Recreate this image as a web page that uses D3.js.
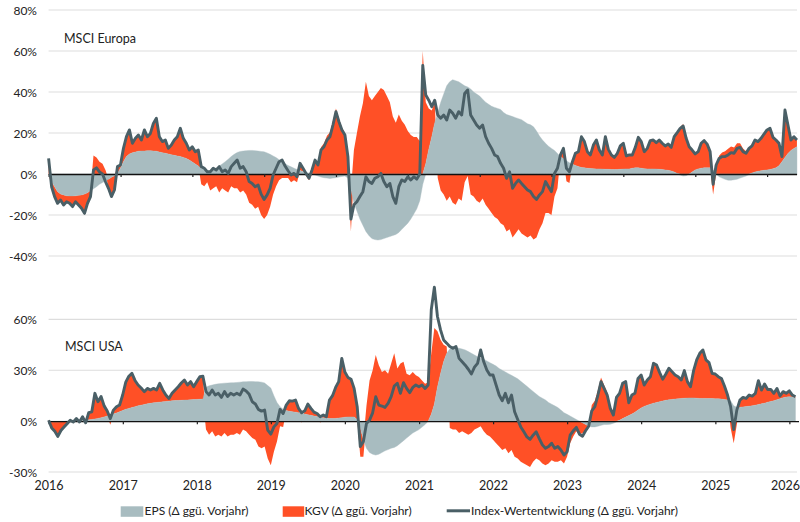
<!DOCTYPE html>
<html><head><meta charset="utf-8">
<script src="https://cdn.jsdelivr.net/npm/d3@7"></script>
<style>
body{margin:0;background:#fff}
svg{display:block}
text{font-family:Lato,"Open Sans",sans-serif;fill:#222}
</style>
</head><body>
<svg id="c" width="800" height="522"></svg>
<script>
// ---------- DATA (half-monthly samples from 2016-01-01, % change vs. prior year) ----------
const euIdx=[7.6,-6.2,-11,-14.3,-12.7,-15.1,-13.5,-14.3,-15.9,-13.5,
-15.1,-16.7,-19.2,-14.3,-11,2,3,1,0,-3.7,
-7,-11,-7.8,3.6,4.4,12.5,18.2,21.5,15,17.4,
19,16.6,21.5,18.2,19.8,24.7,27.2,18.2,15.8,16.6,
12.5,14.1,16.6,18.2,22.3,17.4,15,11.7,13.3,10.9,
11.7,3.6,2.8,1.1,1.1,2.8,2,3.6,1.1,2,
0.3,3.6,5.2,6.8,2.8,3.6,1.1,-3.7,-4.6,-6.2,
-5.4,-9.8,-12.4,-10.2,-7,-0.5,2.8,6,6.8,3.9,
1.6,-0.5,0.3,-1.3,5.2,2.8,0.3,-2.1,2,6.8,
4.4,11.7,13.3,16.6,18.2,23.9,30.4,25.5,21.5,19,
8.5,-22,-15,-13.5,-11,-8.6,-1.3,-3.7,-4.6,-2.1,
-1.3,0.3,-3.7,-6.2,-4.6,-11,-14.3,-6.2,-2.9,-3.7,
-1.3,-2.9,-1.3,-2.5,0,53,38.5,36,32.8,36,
28.8,27.2,28.8,26.3,31.2,29.6,27.2,30.4,28.8,39.3,
41,28.8,26.3,23.9,22.3,23.9,18.2,15,12.5,9.3,
8.5,5.2,2.8,-2.1,1.1,-7,-4.6,-2.9,-4.6,-6.2,
-7.8,-8.6,-11,-12.4,-10.2,-8.6,-3.7,-6.2,-8.6,0.3,
2.8,9.3,12.5,2.8,1.1,6,10.1,10.9,18.2,15.8,
10.9,9.3,14.1,16.6,11.7,9.3,18.2,12,9.3,8.1,
10.1,13.7,15,8.8,9.3,9.3,13,17.9,15.8,10.9,
12.5,16.3,16.6,15.3,16.6,15,13.7,14.6,13,18.2,
20.2,22.3,23.4,17.4,13.3,11.7,9.8,10.9,15,16.3,
14.6,10.9,-5,4.4,7.6,8.5,8.5,9.3,10.4,10.1,
12.5,13,10.9,10.1,12.5,13.7,16.6,15.8,17.4,19.5,
21.5,22.3,17.9,16.6,15,8.5,31.2,23.9,16.6,18.2,
16.6];
const euEps=[0,-3.7,-6.2,-8.6,-9.8,-10.2,-10.6,-10.7,-10.7,-10.6,
-10.4,-10.2,-9.8,-9.1,-8.1,-7.2,-6.2,-5,-4.2,-3.4,
-2.6,-1.6,-0.8,0.3,2.8,6,8.5,9.8,10.4,10.7,
11.1,11.2,11.2,11.4,11.4,11.2,11.1,10.7,10.4,10.1,
9.8,9.4,9.1,8.8,8.5,8.1,7.6,6.8,5.9,4.9,
3.9,2.8,2,1.1,1.1,2,2.8,3.9,4.9,6,
7.2,8.5,9.6,10.5,11,11.2,11.4,11.5,11.5,11.4,
11.2,11,10.8,10.3,9.6,8.8,8,7,6,5,
4.2,3.5,2.8,2.2,1.7,1.2,0.8,0.4,0,-0.5,
-1,-1.5,-1.8,-2,-2.2,-2,-1.8,-1.5,-1.2,-1,
-2,-8,-14,-18,-22,-25,-28,-30,-31.5,-32,
-32.2,-32,-31.5,-31,-30.5,-30,-29.5,-28.5,-27,-25.5,
-24,-22,-19.5,-17,-13,-5,5,12,18,25,
30,35,39,43,45,46,45.5,45,44,43,
42.5,41.5,40,39,38,36.5,35,34,33,32.5,
32,31.5,30,29,28.5,28,27.5,27,26.5,25.5,
24.5,24,23,21,18.5,16.6,15,13.5,12.5,11.5,
10,8.5,7.5,6.5,5.5,4.8,4.2,3.6,3.2,3,
2.8,2.7,2.6,2.5,2.5,2.4,2.3,2.3,2.2,2.2,
2.2,2.3,2.4,2.5,2.5,2.8,3,3,2.8,2.6,
2.5,2.5,2.5,2.4,2.3,2.2,2,1.8,1.5,1,
0.3,-0.5,-1,-0.8,0,1,2,2.5,2.8,3,
3,3,2,0,-1.3,-2,-2.6,-3,-3,-2.8,
-2.5,-2,-1.5,-1,-0.3,0.5,1,1.3,1.6,1.8,
2,2.2,2.6,3,4,6,8,10,11.5,12.5,
13.3];
const euKgv=[7,-2.5,-5,-6,-3,-5,-3,-4,-5.5,-3,
-5,-7,-10,-5.5,-3,9,8,6,5,2,
-4,-9,-7,3,1.6,6.5,9.7,11.7,4.6,6.7,
7.9,5.4,10.3,6.8,8.4,13.5,16.1,7.5,5.4,6.5,
2.7,4.7,7.5,9.4,13.8,9.3,7.4,4.9,7.4,6,
7.8,-5,-6,-4,-8,-7,-6,-9,-7,-8,
-9,-6,-7,-7,-9,-8,-10,-14,-15,-17,
-16,-20,-22,-20,-16,-10,-6,-3,-2,-2,
-2,-4,-3,-4,3,1.5,-1,-3,2,7,
5,13,15,18.6,20.4,26,32,27,22.7,20,
10,-20,11.7,20,28,34.5,45,38,36,38,
40,42,41,38,35,28,25,29,26,24,
21,19,18,18,16,60,30,20,13,10,
-2,-8,-10,-13,-11,-14,-15,-12,-13,-4,
-1,-10,-11,-13,-14,-12,-15,-17,-19,-21,
-22,-24,-25,-28,-27,-31,-29,-27,-29,-30,
-31,-30,-32,-31,-27,-24,-19,-19,-20,-11,
-7,0.8,5,-3.5,-4.4,1.2,5.9,7.3,15,12.8,
8.1,6.6,11.5,14.1,9.2,6.9,15.9,9.7,7.1,5.9,
7.9,11.4,12.6,6.3,6.8,6.5,10,14.9,13,8.3,
10,13.8,14.1,12.9,14.3,12.8,11.7,12.8,11.5,17.2,
19.9,22.8,24.4,18.2,13.3,10.7,7.8,8.4,12.2,13.3,
11.6,7.9,-10,4.4,8.9,10.5,11.1,12.3,13.4,12.9,
15,15,12.4,11.1,12.8,13.2,15.6,14.5,15.8,17.7,
19.5,20.1,15.3,13.6,11,2.5,23.2,13.9,5.1,5.7,
3.3];

const usIdx=[0.5,-4,-6,-9,-5.5,-3.5,-1.5,0.5,-0.5,1.5,
-0.5,2.6,-1,5,5.5,16.4,11.5,14.5,9,6,
1.5,6.5,8.5,9.5,15.4,23,26.5,28.2,24,21.3,
19.5,17.4,19.3,18.4,19.3,18.4,22.3,18.4,15.4,13.4,
16.4,18.4,20.3,22.5,24.3,21.3,23.3,20.3,23.3,26.2,
26.5,17.4,15.4,18.4,15.4,16.4,14,17.4,14.5,16.4,
15.4,16.4,15.4,18.9,17.8,15.8,11.4,10.1,6.9,5.9,
6.5,-5.3,-7.7,-3.4,-1.4,6.9,4.5,9.5,12,11.8,
12.4,7.5,4.9,6.1,10.1,7.5,5.3,4.5,2.6,3.6,
2.6,12.4,15,19.9,23.3,37,29,25.8,24.7,19.3,
8.5,-15,-12,-1.4,0.6,4.9,14.4,9.5,8.9,8.1,
10.5,14.4,20.7,22.3,16.4,22.7,19.3,16.8,19.9,21.3,
20.3,21.3,19.3,21.3,65.7,79,61.7,53.8,47.9,46,
44,43,44,37,35,33,30.6,27.8,31.8,34.1,
42,35,30.2,27.2,27.2,21.3,15.4,12,16.4,10.8,
15.4,5.5,1,-3.4,-6.3,-9.3,-10.8,-8.3,-6.3,-10.3,
-14,-16,-15,-13,-16,-15,-17,-20,-18,-8.3,
-5.7,-3.7,-7.7,-8.9,-5.7,-3,6.1,8.5,15.4,23.3,
19.3,15.4,7.5,3.6,14,16.4,22.3,23.3,10.8,15.4,
16.4,25.2,27.2,21.3,24.3,26.2,34.1,33.1,28.6,24.7,
27.8,31.2,29.2,27.2,26.2,24.3,29.8,23.3,20.3,29.8,
36.1,40,42,36.1,34.5,28.2,27.8,26.2,25.2,20.7,
15.4,8.5,-5,6.5,12.4,14,13.4,15.4,14.8,16.4,
23.9,18.3,21.9,18.7,18.7,16.4,19.3,14.8,17.4,16.4,
17.9,15.4,14.4];
const usEps=[0,-0.5,-0.5,-0.5,-0.3,-0.3,0,0,0,0.2,
0.3,0.5,0.6,0.8,1,1.3,1.6,2,2.5,3,
3.6,4.2,4.8,5.5,6.3,7,7.5,8,8.5,9,
9.4,9.8,10.2,10.5,10.8,11,11.2,11.4,11.6,11.8,
12,12.1,12.2,12.3,12.4,12.5,12.6,12.7,12.8,12.9,
13,20,20.8,21.3,21.7,22,22.2,22.4,22.5,22.6,
22.7,22.8,23,23.2,23.3,23.4,23.4,23.3,23.2,23,
22.5,21,19.5,15,11,8.5,7,6.2,5.8,5.5,
5.3,5,4.6,4.2,3.8,3.4,3,2.7,2.4,2,
1.7,1.5,1.5,1.6,1.8,2,2.3,2.5,2.5,2.4,
1,-4,-11,-16,-18.5,-19.5,-20,-19.5,-18.5,-17.5,
-16.8,-16,-15.5,-14.5,-13,-11.5,-10,-8.5,-7,-6,
-5,-3.5,-2,0,4,10,20,28,35,40,
42.5,43.5,43.5,43,42.5,42,41,40,39,38,
37,36.5,35.5,34.5,33.5,32.5,31,30,29,28,
27,26,25,23.5,22,20.5,19,17.5,16,14.5,
13.5,12.5,11,10,9,8,6.5,5,4,3,
2,1,0,-1,-2,-2.8,-3.4,-3.4,-3,-2.5,
-2,-2,-1.8,-1.3,-0.5,0.5,1.5,2.4,3.3,4.2,
5.3,6.5,7.8,8.7,9.4,10,10.6,11,11.5,11.9,
12.3,12.6,12.8,13,13.2,13.4,13.5,13.6,13.7,13.7,
13.5,13.4,13.4,13.4,13.3,13.3,13.2,13.2,13,12.8,
12.5,12,9,8.2,8.2,8.4,8.6,8.8,9,9.4,
9.8,10.2,10.6,11.2,11.6,12,12.6,13.2,13.8,14.2,
14.4,14.2,13.8];
const usKgv=[0.5,-3.5,-5.5,-8.5,-5.2,-3.2,-1.5,0.5,-0.5,1.3,
-0.8,2.1,-1.6,4.2,4.5,15,9.9,12.5,6.5,3,
-2.1,2.3,3.7,4,9.1,16,19,20.2,15.5,12.3,
10.1,7.6,9.1,7.9,8.5,7.4,11.1,7,3.8,1.6,
4.4,6.3,8.1,10.2,11.9,8.8,10.7,7.6,10.5,13.3,
13.5,-5,-8,-6,-9,-8,-9,-7,-9,-8,
-8,-7,-8,-5,-6,-8,-10,-11,-15,-16,
-15,-22,-26,-18,-12,-3,-3.5,3,6,6.3,
7,2.5,-1,1.9,6.3,4,2.3,1.8,-1,1.6,
0.9,10.9,13.5,18.3,21.5,35,26.7,23.3,22.2,16.9,
7.5,-17,-10,9,24,30,39,33,29,30,
28,34,40,31,34,35,28,27,29,27,
26,24,22,23,36,45,33,20,10,4,
-4,-5,-5,-7,-6,-7,-8,-7,-5,-4,
-3,-6,-8,-9,-11,-13,-15,-17,-16,-19,
-17,-21,-22,-24,-25,-26,-27,-24,-22,-23,
-25,-26,-25,-23,-24,-24,-23,-25,-21,-13,
-9,-6,-8,-6,-4,-1,9.5,12,18.4,25.8,
21.3,17,9,4.5,14.5,15.9,20.8,20.9,7.5,11.2,
11.1,18.7,19.4,12.6,14.9,16.2,23.5,22.1,17.1,12.8,
15.5,18.6,16.4,14.2,13,10.9,16.3,9.7,6.6,16.1,
22.6,26.6,28.6,22.7,21.2,14.9,14.6,13,12.2,7.9,
2.9,-4,-13,-2,4.2,5.6,4.8,6.6,5.8,7,
14.1,8.1,11.3,7.5,7.1,4.4,6.7,1.6,3.6,2.2,
3.5,1.2,0.6];

const years=[2016,2017,2018,2019,2020,2021,2022,2023,2024,2025,2026];
const euTicks=[80,60,40,20,0,-20,-40];
const usTicks=[60,30,0,-30];
const panelTitles=["MSCI Europa","MSCI USA"];
const legendLabels=["EPS (Δ ggü. Vorjahr)","KGV (Δ ggü. Vorjahr)","Index-Wertentwicklung (Δ ggü. Vorjahr)"];

// ---------- STYLE ----------
const GRAY="#a8bcc0", ORANGE="#ff5026", LINE="#4a5f66";
const svg=d3.select("#c");
const DAY=864e5, T0=Date.UTC(2016,0,1), STEP=365.25/24*DAY;
const dateOf=i=>new Date(T0+i*STEP);
const yr=y=>new Date(Date.UTC(y,0,1));

function panel(o){
  const rows=o.idx.map((v,i)=>({date:dateOf(i),eps:o.eps[i],kgv:o.kgv[i],idx:v}));
  const g=svg.append("g");
  const x=o.x,y=o.y;
  g.selectAll("line.grid").data(o.ticks.filter(v=>v!==0)).join("line")
    .attr("class","grid").attr("x1",48.6).attr("x2",797)
    .attr("y1",v=>y(v)).attr("y2",v=>y(v))
    .attr("stroke","#dddddd").attr("stroke-width",1.2);
  g.selectAll("text.yl").data(o.ticks).join("text")
    .attr("class","yl").attr("x",37).attr("y",v=>y(v)).attr("dy","0.42em")
    .attr("text-anchor","end").style("font-size","12px").text(v=>v+"%");
  const series=d3.stack().keys(["eps","kgv"]).offset(d3.stackOffsetDiverging)(rows);
  const area=d3.area().x(d=>x(d.data.date)).y0(d=>y(d[0])).y1(d=>y(d[1]));
  // draw KGV first, EPS on top so sign-change slivers of KGV hide under EPS
  g.selectAll("path.ar").data(series.slice().reverse()).join("path").attr("class","ar")
    .attr("d",area)
    .attr("fill",s=>s.key==="kgv"?ORANGE:GRAY)
    .attr("stroke",s=>s.key==="kgv"?"none":GRAY).attr("stroke-width",0.4);
  const ax=g.append("g").attr("transform",`translate(0,${y(0)})`)
    .call(d3.axisBottom(x).tickValues(years.map(yr)).tickSize(3).tickSizeOuter(0).tickFormat(""));
  ax.select(".domain").attr("stroke","#111").attr("stroke-width",1.3);
  ax.selectAll(".tick line").attr("stroke","#222").attr("stroke-width",1.2);
  g.append("path").datum(rows)
    .attr("d",d3.line().x(d=>x(d.date)).y(d=>y(d.idx)))
    .attr("fill","none").attr("stroke",LINE).attr("stroke-width",2.9).attr("stroke-linejoin","round");
  g.append("text").attr("x",o.tx).attr("y",o.ty).style("font-size","12.5px").text(o.title);
}

const xEu=d3.scaleTime().domain([yr(2016),new Date(Date.UTC(2026,4,31))]).range([48.6,796.6]);
const yEu=d3.scaleLinear().domain([-40,80]).range([256,10]);
const xUs=d3.scaleTime().domain([yr(2016),new Date(Date.UTC(2026,1,15))]).range([48.6,798.5]);
const yUs=d3.scaleLinear().domain([-30,60]).range([472,319.4]);

panel({idx:euIdx,eps:euEps,kgv:euKgv,x:xEu,y:yEu,ticks:euTicks,title:panelTitles[0],tx:64,ty:42.5});
panel({idx:usIdx,eps:usEps,kgv:usKgv,x:xUs,y:yUs,ticks:usTicks,title:panelTitles[1],tx:65,ty:350.5});

// x-axis labels (bottom)
const xl=svg.append("g").attr("transform","translate(0,478)")
  .call(d3.axisBottom(xUs).tickValues(years.map(yr)).tickSize(0).tickFormat(d3.utcFormat("%Y")));
xl.select(".domain").remove();
xl.selectAll("text").style("font-family","Lato, 'Open Sans', sans-serif").style("font-size","12.5px").attr("fill","#222");
// keep the last year label inside the canvas
xl.selectAll(".tick").filter(d=>d.getUTCFullYear()===2026).select("text")
  .attr("text-anchor","end").attr("x",799.5-xUs(yr(2026)));

// legend
const lg=svg.append("g");
lg.append("rect").attr("x",120.7).attr("y",506.3).attr("width",22.6).attr("height",10.5).attr("fill",GRAY);
lg.append("text").attr("x",144.5).attr("y",515.3).style("font-size","12px").text(legendLabels[0]);
lg.append("rect").attr("x",282.7).attr("y",506.3).attr("width",21.5).attr("height",10.5).attr("fill",ORANGE);
lg.append("text").attr("x",304.6).attr("y",515.3).style("font-size","12px").text(legendLabels[1]);
lg.append("line").attr("x1",446.7).attr("x2",470).attr("y1",510.8).attr("y2",510.8).attr("stroke",LINE).attr("stroke-width",3);
lg.append("text").attr("x",471).attr("y",515.3).style("font-size","12px").text(legendLabels[2]);
</script>
</body></html>
